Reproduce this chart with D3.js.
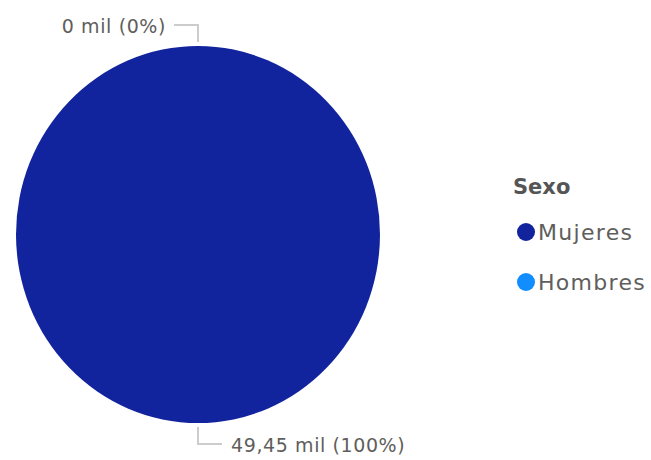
<!DOCTYPE html>
<html><head><meta charset="utf-8">
<script src="https://cdn.jsdelivr.net/npm/d3@7"></script>
<style>body{margin:0;background:#fff}svg{display:block}text{font-family:"DejaVu Sans","Noto Sans",sans-serif}</style>
</head><body><svg id="c" width="651" height="460"></svg>
<script>
const categories = ["Mujeres", "Hombres"];
const values = [49450, 0];
const labels = ["49,45 mil (100%)", "0 mil (0%)"];
const colors = ["#12239E", "#118DFF"];
const legendTitle = "Sexo";

const svg = d3.select("#c");
const cx = 198, cy = 234.5, rx = 182, ry = 188.5;
const data = categories.map((c, i) => ({cat: c, v: values[i], label: labels[i], color: colors[i]}));
const pie = d3.pie().sort(null).value(d => d.v).startAngle(0).endAngle(2 * Math.PI);
const arcs = pie(data);
const arc = d3.arc().innerRadius(0).outerRadius(rx);
const g = svg.append("g").attr("transform", `translate(${cx},${cy}) scale(1,${ry / rx})`);
g.selectAll("path").data(arcs).join("path").attr("d", arc).attr("fill", d => d.data.color);

// leader lines + labels
const lab = svg.append("g");
arcs.forEach(a => {
  const m = (a.startAngle + a.endAngle) / 2;
  const sx = cx + Math.sin(m) * (rx + 4), sy = cy - Math.cos(m) * (ry + 4);
  const ex = cx + Math.sin(m) * (rx + 21), ey = cy - Math.cos(m) * (ry + 21);
  const top = Math.cos(m) > 0;
  const hx = top ? ex - 24 : ex + 24;
  lab.append("polyline").attr("points", `${sx},${sy} ${ex},${ey} ${hx},${ey}`)
    .attr("fill", "none").attr("stroke", "#cccccc").attr("stroke-width", 2);
  lab.append("text").attr("x", top ? hx - 8 : hx + 9).attr("y", ey + 8)
    .attr("text-anchor", top ? "end" : "start")
    .attr("font-size", 19).attr("letter-spacing", 0.6).attr("fill", "#605E5C").text(a.data.label);
});

// legend
const lg = svg.append("g");
lg.append("text").attr("x", 513).attr("y", 194).attr("font-size", 21).attr("font-weight", "bold").attr("fill", "#555").text(legendTitle);
const ly = d3.scaleBand().domain(categories).range([207, 307]);
categories.forEach((c, i) => {
  const y = ly(c) + ly.bandwidth() / 2;
  lg.append("circle").attr("cx", 526).attr("cy", y).attr("r", 9).attr("fill", colors[i]);
  lg.append("text").attr("x", 538).attr("y", y + 8).attr("font-size", 22).attr("letter-spacing", 1.3).attr("fill", "#605E5C").text(c);
});
</script></body></html>
